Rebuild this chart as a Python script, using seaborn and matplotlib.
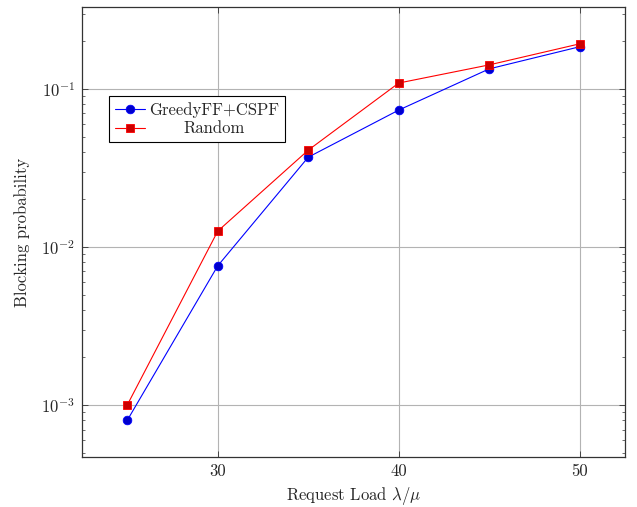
import matplotlib
matplotlib.use("Agg")
import matplotlib.pyplot as plt
import matplotlib.ticker as mticker
import seaborn as sns
import pandas as pd
import numpy as np

loads = [25, 30, 35, 40, 45, 50]
greedy = [8.0e-4, 7.6e-3, 3.7e-2, 7.35e-2, 0.134, 0.185]
random_ = [1.0e-3, 1.26e-2, 4.1e-2, 0.109, 0.142, 0.193]
series_names = ["GreedyFF+CSPF", "Random"]
xticks = [30, 40, 50]

df = pd.DataFrame({
    "load": loads * 2,
    "prob": greedy + random_,
    "series": [series_names[0]] * len(loads) + [series_names[1]] * len(loads),
})

sns.set_style("ticks")
plt.rcParams["font.family"] = ["cmr10", "DejaVu Serif"]
plt.rcParams["mathtext.fontset"] = "cm"
plt.rcParams["axes.formatter.use_mathtext"] = True
plt.rcParams["axes.unicode_minus"] = False

fig = plt.figure(figsize=(6.37, 5.07), dpi=100)
ax = fig.add_axes([82/637, 1-457/507, (625-82)/637, (457-7)/507])

palette = {"GreedyFF+CSPF": "#0000ff", "Random": "#ff0000"}
sns.lineplot(data=df, x="load", y="prob", hue="series", style="series",
             markers={"GreedyFF+CSPF": "o", "Random": "s"}, dashes=False,
             palette=palette, linewidth=0.8, markersize=6.2, ax=ax, legend=False, zorder=3)

faces = {"GreedyFF+CSPF": "#0000cc", "Random": "#cc0000"}
for line, name in zip(ax.get_lines(), series_names):
    line.set_markerfacecolor(faces[name])
    line.set_markeredgecolor(palette[name])
    line.set_markeredgewidth(0.6)
    line.set_label(name)

ax.set_yscale("log")
ax.set_xlim(22.5, 52.5)
ax.set_ylim(4.69e-4, 0.33)
ax.set_xticks(xticks)
ax.set_xticklabels([str(t) for t in xticks])
ax.yaxis.set_major_locator(mticker.LogLocator(base=10, numticks=10))
ax.yaxis.set_minor_locator(mticker.LogLocator(base=10, subs=np.arange(2, 10), numticks=20))
ax.yaxis.set_minor_formatter(mticker.NullFormatter())

ax.grid(True, which="major", color="#b3b3b3", linewidth=0.8)
ax.set_axisbelow(True)
ax.tick_params(which="both", direction="in", top=True, right=True, labelsize=12, color="#333333")
ax.tick_params(which="major", length=4, width=0.6, pad=5)
ax.tick_params(which="minor", length=2.5, width=0.5)
for s in ax.spines.values():
    s.set_color("#333333")
    s.set_linewidth(0.9)

ax.set_xlabel(r"Request Load $\lambda/\mu$", fontsize=12, labelpad=4)
ax.set_ylabel("Blocking probability", fontsize=12, labelpad=8)

handles = ax.get_lines()[:2]
leg = ax.legend(handles=handles, labels=series_names, loc="upper left",
                bbox_to_anchor=(0.05, 0.802), frameon=True, fancybox=False,
                edgecolor="black", framealpha=1, fontsize=12, borderaxespad=0,
                handlelength=1.8, handletextpad=0.25, borderpad=0.35, labelspacing=0.2)
leg.get_frame().set_linewidth(0.8)

# center the legend entries (pgfplots-style centered cells)
fig.canvas.draw()
renderer = fig.canvas.get_renderer()
texts = leg.get_texts()
widths = [t.get_window_extent(renderer).width for t in texts]
wmax = max(widths)
for t, w in zip(texts, widths):
    t.set_position(((wmax - w) / 2.0, 0))

fig.savefig("out.png", dpi=100)
